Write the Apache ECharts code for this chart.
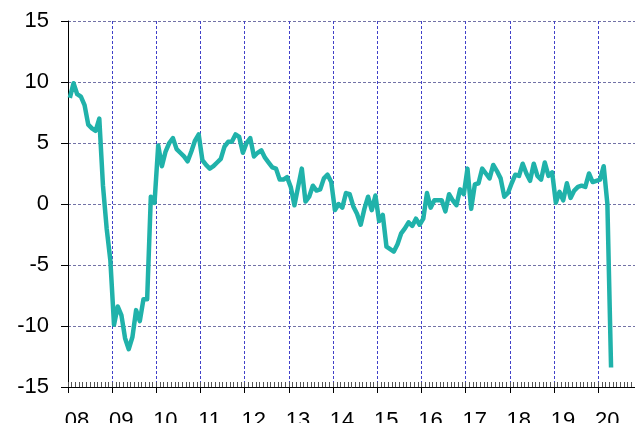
<!DOCTYPE html>
<html>
<head>
<meta charset="utf-8">
<script src="https://cdn.jsdelivr.net/npm/echarts@6/dist/echarts.min.js"></script>
<style>html,body{margin:0;padding:0;background:#fff;}#c{width:635px;height:423px;}</style>
</head>
<body>
<div id="c"></div>
<script>
// Monthly values, Jan 2008 .. Apr 2020
var y2008 = [8.7, 9.9, 9.0, 8.8, 8.1, 6.5, 6.2, 6.0, 7.0, 1.5, -2.0, -4.6];
var y2009 = [-9.9, -8.4, -9.1, -11.0, -11.9, -10.9, -8.7, -9.6, -7.8, -7.8, 0.6, 0.1];
var y2010 = [4.8, 3.1, 4.3, 5.0, 5.4, 4.5, 4.2, 3.9, 3.5, 4.3, 5.2, 5.7];
var y2011 = [3.6, 3.2, 2.9, 3.1, 3.4, 3.7, 4.7, 5.1, 5.1, 5.7, 5.5, 4.2];
var y2012 = [5.0, 5.4, 3.9, 4.2, 4.4, 3.8, 3.4, 3.0, 2.9, 2.0, 2.0, 2.2];
var y2013 = [1.4, -0.1, 1.4, 2.9, 0.2, 0.6, 1.5, 1.1, 1.2, 2.1, 2.4, 1.8];
var y2014 = [-0.5, 0.0, -0.3, 0.9, 0.8, -0.2, -0.8, -1.7, -0.4, 0.6, -0.5, 0.7];
var y2015 = [-1.4, -0.9, -3.5, -3.7, -3.9, -3.3, -2.4, -2.0, -1.5, -1.8, -1.2, -1.7];
var y2016 = [-1.2, 0.9, -0.3, 0.3, 0.3, 0.3, -0.6, 0.8, 0.3, -0.1, 1.2, 0.8];
var y2017 = [2.9, -0.4, 1.6, 1.7, 2.9, 2.5, 2.1, 3.2, 2.7, 2.1, 0.6, 0.9];
var y2018 = [1.7, 2.4, 2.3, 3.3, 2.5, 1.9, 3.3, 2.3, 2.0, 3.4, 2.3, 2.6];
var y2019 = [0.1, 1.0, 0.3, 1.7, 0.5, 1.1, 1.4, 1.5, 1.4, 2.5, 1.8, 1.9];
var y2020 = [2.0, 3.1, 0.0, -13.4];

var firstYear = 2008;
var yearTickLabels = ['08','09','10','11','12','13','14','15','16','17','18','19','20'];
var yTicks = [-15, -10, -5, 0, 5, 10, 15];

var values = [].concat(y2008, y2009, y2010, y2011, y2012, y2013, y2014, y2015, y2016, y2017, y2018, y2019, y2020);
var seriesData = values.map(function (v, i) { return [i + 0.5, v]; });

var FONT = '"Liberation Sans", Arial, sans-serif';
var chart = echarts.init(document.getElementById('c'), null, {renderer: 'canvas'});
var gridRect = {left: 68, top: 21, right: 0, bottom: 36, outerBoundsMode: 'none', containLabel: false};
chart.setOption({
  animation: false,
  backgroundColor: '#ffffff',
  grid: [
    Object.assign({}, gridRect),
    Object.assign({}, gridRect)
  ],
  xAxis: [{
    type: 'value', gridIndex: 0, min: 0, max: 154, interval: 12,
    axisLine: {show: true, onZero: false, lineStyle: {color: '#000', width: 1}},
    axisTick: {show: true, inside: false, length: 6, lineStyle: {color: '#000'}},
    axisLabel: {
      show: true, fontSize: 22, fontFamily: FONT, color: '#000', margin: 23,
      padding: [0, 0, 0, 18],
      formatter: function (v) { var k = Math.round(v / 12); return yearTickLabels[k] || ''; }
    },
    splitLine: {show: true, lineStyle: {color: '#4040c8', type: [3, 2], width: 1}}
  }, {
    type: 'value', gridIndex: 1, min: 0, max: 154, interval: 1, position: 'bottom',
    axisLine: {show: false, onZero: false},
    axisTick: {show: true, inside: true, length: 5, lineStyle: {color: '#555'}},
    axisLabel: {show: false},
    splitLine: {show: false}
  }],
  yAxis: [{
    type: 'value', gridIndex: 0, min: yTicks[0], max: yTicks[yTicks.length - 1], interval: 5,
    axisLine: {show: true, onZero: false, lineStyle: {color: '#000', width: 1}},
    axisTick: {show: true, inside: false, length: 7, lineStyle: {color: '#000'}},
    axisLabel: {show: true, fontSize: 22, fontFamily: FONT, color: '#000', margin: 19},
    splitLine: {show: true, lineStyle: {color: '#7272a6', type: [3, 2], width: 1}}
  }, {
    type: 'value', gridIndex: 1, min: -15, max: 15, show: false
  }],
  series: [{
    type: 'line', xAxisIndex: 0, yAxisIndex: 0,
    data: seriesData, showSymbol: false, symbol: 'none',
    lineStyle: {color: '#20b2aa', width: 4.5, join: 'round'},
    z: 5
  }]
});
</script>
</body>
</html>
